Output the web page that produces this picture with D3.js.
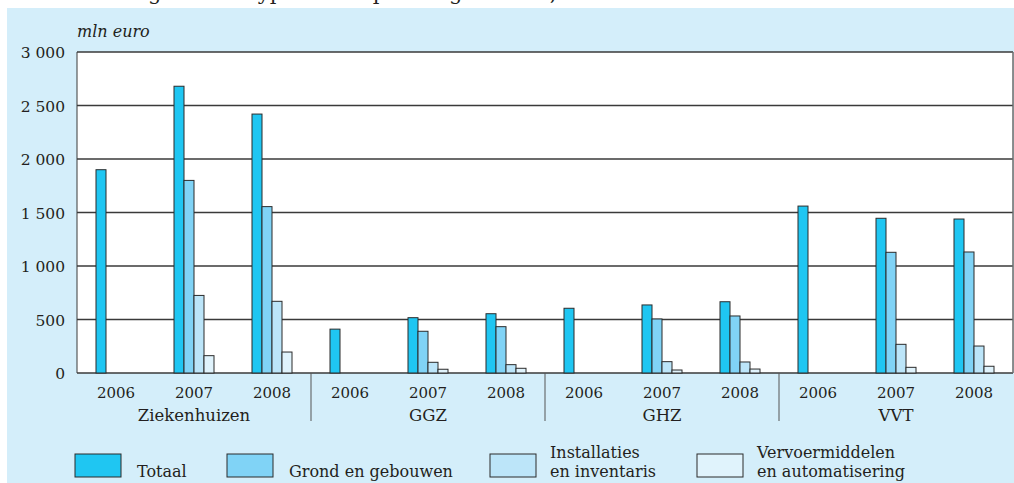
<!DOCTYPE html>
<meta charset="utf-8">
<style>
body { margin: 0; background: #fff; }
text { font-family: "DejaVu Serif", serif; fill: #231f20; }
</style>
<body>
<script src="https://d3js.org/d3.v7.min.js"></script>
<script>
var sectors = ["Ziekenhuizen", "GGZ", "GHZ", "VVT"],
	years = ["2006", "2007", "2008"],
	series = ["Totaal", "Grond en gebouwen", "Installaties en inventaris", "Vervoermiddelen en automatisering"],
	legendLines = [["Totaal"], ["Grond en gebouwen"], ["Installaties", "en inventaris"], ["Vervoermiddelen", "en automatisering"]],
	colors = ["#1fc6f2", "#80d3f6", "#bce5f9", "#e0f3fc"],
	yTicks = [0, 500, 1000, 1500, 2000, 2500, 3000];

// one value per sector/year (null = not shown)
var totaal = [1900, 2680, 2420, 410, 517, 554, 605, 636, 666, 1560, 1446, 1439],
	grond = [null, 1800, 1555, null, 390, 433, null, 505, 533, null, 1128, 1131],
	installaties = [null, 725, 670, null, 100, 78, null, 106, 103, null, 268, 252],
	vervoer = [null, 162, 196, null, 35, 44, null, 28, 37, null, 53, 63];

var width = 1014,
	height = 483,
	pLeft = 77,
	pRight = 1013,
	pTop = 52,
	pBottom = 373;

var cats = [];
sectors.forEach(function(s) { years.forEach(function(y) { cats.push(s + "|" + y); }); });
var cols = [totaal, grond, installaties, vervoer];

var svg = d3.select("body").append("svg")
	.attr("width", width)
	.attr("height", height);

// title, cut off at the top edge (only descenders show)
svg.append("text")
	.attr("x", 40)
	.attr("y", 0)
	.style("font-size", "21px")
	.text("Investeringen naar type activa per zorgbranche, 2006–2008");

svg.append("rect")
	.attr("x", 7).attr("y", 8)
	.attr("width", width - 7).attr("height", height - 8)
	.style("fill", "#d4eefa");

var x = d3.scaleBand().domain(cats).range([pLeft, pRight]);
var xs = d3.scaleBand().domain(d3.range(4)).range([0, 40]);
var y = d3.scaleLinear().domain([0, 3000]).range([pBottom, pTop]);

svg.append("rect")
	.attr("x", pLeft).attr("y", pTop)
	.attr("width", pRight - pLeft).attr("height", pBottom - pTop)
	.style("fill", "#fff");

// grid
svg.append("g").selectAll("line")
	.data(yTicks)
	.enter().append("line")
	.attr("x1", pLeft).attr("x2", pRight)
	.attr("y1", function(d) { return y(d); })
	.attr("y2", function(d) { return y(d); })
	.style("stroke", "#3a3a3a")
	.style("stroke-width", 1.3);

svg.append("line")
	.attr("x1", pLeft).attr("x2", pLeft).attr("y1", pTop).attr("y2", pBottom)
	.style("stroke", "#3a3a3a");
svg.append("line")
	.attr("x1", pRight).attr("x2", pRight).attr("y1", pTop).attr("y2", pBottom)
	.style("stroke", "#6a6a6a").style("stroke-width", 1.5);

// y labels
svg.append("g").selectAll("text")
	.data(yTicks)
	.enter().append("text")
	.attr("x", 65)
	.attr("y", function(d) { return y(d) + 6; })
	.attr("text-anchor", "end")
	.style("font-size", "15.5px")
	.text(function(d) { return d3.format(",")(d).replace(",", " "); });

svg.append("text")
	.attr("x", pLeft)
	.attr("y", 37)
	.style("font-size", "16px")
	.style("font-style", "italic")
	.text("mln euro");

// bars
var groups = svg.append("g").selectAll("g")
	.data(cats)
	.enter().append("g")
	.attr("transform", function(d) { return "translate(" + (x(d) + x.bandwidth() / 2 - 20) + ",0)"; });

groups.selectAll("rect")
	.data(function(d, i) { return cols.map(function(c, j) { return {s: j, v: c[i]}; }).filter(function(e) { return e.v != null; }); })
	.enter().append("rect")
	.attr("x", function(d) { return xs(d.s); })
	.attr("width", xs.bandwidth())
	.attr("y", function(d) { return y(d.v); })
	.attr("height", function(d) { return pBottom - y(d.v); })
	.style("fill", function(d) { return colors[d.s]; })
	.style("stroke", "#2b2b2b")
	.style("stroke-width", 1);

// x labels
svg.append("g").selectAll("text")
	.data(cats)
	.enter().append("text")
	.attr("x", function(d) { return x(d) + x.bandwidth() / 2; })
	.attr("y", 398)
	.attr("text-anchor", "middle")
	.style("font-size", "15px")
	.text(function(d) { return d.split("|")[1]; });

svg.append("g").selectAll("text")
	.data(sectors)
	.enter().append("text")
	.attr("x", function(d) { return x(d + "|2007") + x.bandwidth() / 2; })
	.attr("y", 421)
	.attr("text-anchor", "middle")
	.style("font-size", "16.5px")
	.text(function(d) { return d; });

svg.append("g").selectAll("line")
	.data(sectors.slice(1))
	.enter().append("line")
	.attr("x1", function(d) { return x(d + "|2006"); })
	.attr("x2", function(d) { return x(d + "|2006"); })
	.attr("y1", pBottom).attr("y2", 421)
	.style("stroke", "#555");

// legend
var legX = [75, 227, 490, 697];
var leg = svg.append("g").selectAll("g")
	.data(series)
	.enter().append("g")
	.attr("transform", function(d, i) { return "translate(" + legX[i] + ",454)"; });

leg.append("rect")
	.attr("width", 46).attr("height", 23)
	.style("fill", function(d, i) { return colors[i]; })
	.style("stroke", "#2b2b2b");

leg.each(function(d, i) {
	var lines = legendLines[i];
	d3.select(this).selectAll("text")
		.data(lines)
		.enter().append("text")
		.attr("x", i < 2 ? 62 : 60)
		.attr("y", function(t, k) { return lines.length == 1 ? 23 : k * 19 + 4; })
		.style("font-size", "16px")
		.text(function(t) { return t; });
});
</script>
</body>
